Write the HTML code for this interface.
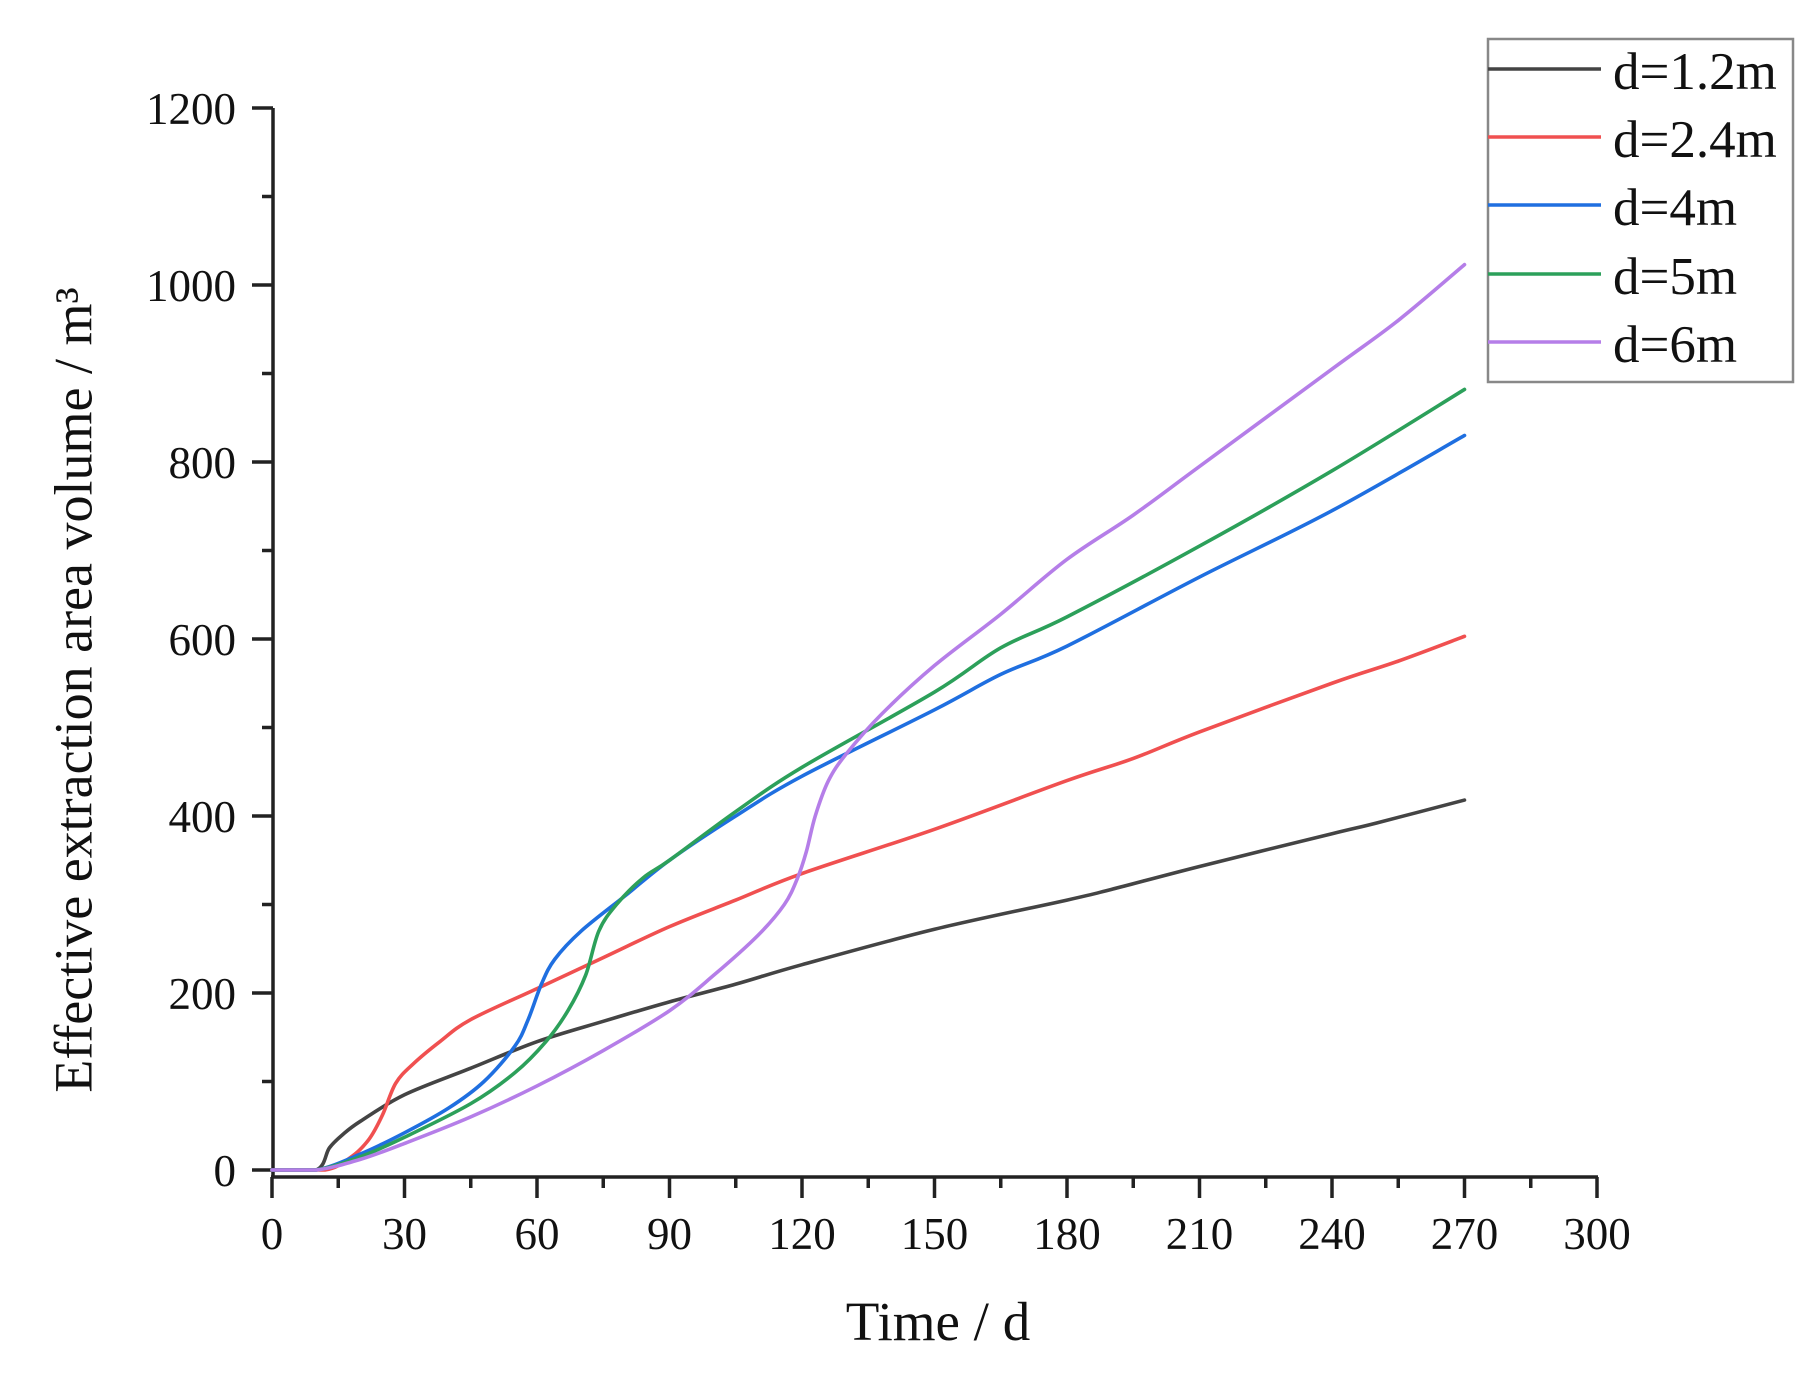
<!DOCTYPE html>
<html><head><meta charset="utf-8"><style>
html,body{margin:0;padding:0;background:#fff;}
svg{display:block;font-family:"Liberation Serif",serif;}
</style></head><body>
<svg id="s" width="1818" height="1380" viewBox="0 0 1818 1380" xmlns="http://www.w3.org/2000/svg">
<rect width="1818" height="1380" fill="#fff"/>
<g id="axes" stroke="#222" stroke-width="3.5" fill="none"></g>
<g id="lbl" fill="#111" font-size="45"></g>
<g id="series" fill="none" stroke-width="3.6" stroke-linejoin="round" stroke-linecap="round"></g>
<text x="79" y="690" font-size="54" fill="#111" text-anchor="middle" transform="rotate(-90 79 690)" dominant-baseline="middle">Effective extraction area volume / m³</text>
<text x="938" y="1340" font-size="55" fill="#111" text-anchor="middle">Time / d</text>
<rect x="1488" y="39" width="305" height="343" fill="#fff" stroke="#888" stroke-width="2.5"/>
<g font-size="53" fill="#111">
<line x1="1488" y1="69" x2="1601" y2="69" stroke="#444" stroke-width="3.5"/><text x="1613" y="89">d=1.2m</text>
<line x1="1488" y1="137" x2="1601" y2="137" stroke="#f05050" stroke-width="3.5"/><text x="1613" y="157">d=2.4m</text>
<line x1="1488" y1="205" x2="1601" y2="205" stroke="#1f6fe0" stroke-width="3.5"/><text x="1613" y="225">d=4m</text>
<line x1="1488" y1="274" x2="1601" y2="274" stroke="#2ca05a" stroke-width="3.5"/><text x="1613" y="294">d=5m</text>
<line x1="1488" y1="342" x2="1601" y2="342" stroke="#b57ee8" stroke-width="3.5"/><text x="1613" y="362">d=6m</text>
</g>
</svg>
<script>
const NS="http://www.w3.org/2000/svg";
const X=d=>272+d*1325/300, Y=v=>1170-v*1062/1200;
const ax=document.getElementById('axes'), lb=document.getElementById('lbl');
function el(p,t,a){const e=document.createElementNS(NS,t);for(const k in a)e.setAttribute(k,a[k]);p.appendChild(e);return e;}
el(ax,'line',{x1:273,y1:108,x2:273,y2:1178});
el(ax,'line',{x1:271,y1:1177,x2:1598,y2:1177});
for(let v=0;v<=1200;v+=100){const y=Y(v);const maj=v%200==0;
 el(ax,'line',{x1:maj?252:262,y1:y,x2:273,y2:y});
 if(maj){const t=el(lb,'text',{x:236,y:y+16,'text-anchor':'end'});t.textContent=v;}}
for(let d=0;d<=300;d+=15){const x=X(d);const maj=d%30==0;
 el(ax,'line',{x1:x,y1:1177,x2:x,y2:maj?1198:1188});
 if(maj){const t=el(lb,'text',{x:x,y:1249,'text-anchor':'middle'});t.textContent=d;}}
const S=[
["#444",[[0,0],[10,0],[13,25],[16,40],[20,55],[30,85],[45,115],[60,145],[75,168],[90,190],[105,210],[120,232],[150,272],[180,305],[190,317],[210,343],[240,380],[250,392],[270,418]]],
["#f05050",[[0,0],[12,0],[18,15],[22,35],[25,62],[28,98],[32,120],[38,145],[45,170],[60,205],[75,240],[90,275],[105,305],[120,335],[150,385],[180,440],[195,465],[210,495],[240,550],[255,575],[270,603]]],
["#1f6fe0",[[0,0],[10,0],[20,18],[30,42],[40,70],[48,100],[55,140],[58,170],[61,210],[64,238],[70,270],[80,310],[90,350],[105,400],[120,445],[150,520],[165,560],[180,592],[210,670],[240,745],[270,830]]],
["#2ca05a",[[0,0],[10,0],[20,15],[30,37],[45,75],[55,110],[62,145],[67,180],[71,220],[74,270],[78,300],[84,330],[90,350],[105,405],[120,455],[150,540],[165,590],[180,625],[210,705],[240,790],[270,882]]],
["#b57ee8",[[0,0],[10,0],[20,12],[30,30],[45,60],[60,95],[75,135],[90,180],[100,220],[110,265],[116,300],[119,330],[121,360],[123,400],[126,440],[130,470],[138,515],[150,570],[165,628],[180,690],[195,740],[210,795],[240,905],[255,960],[270,1023]]]
];
const sg=document.getElementById('series');
for(const [c,pts] of S){const P=pts.map(p=>[X(p[0]),Y(p[1])]);let d="M"+P[0][0]+","+P[0][1];
 for(let i=0;i<P.length-1;i++){const p0=P[Math.max(0,i-1)],p1=P[i],p2=P[i+1],p3=P[Math.min(P.length-1,i+2)];
  let c1=[p1[0]+(p2[0]-p0[0])/6,p1[1]+(p2[1]-p0[1])/6],c2=[p2[0]-(p3[0]-p1[0])/6,p2[1]-(p3[1]-p1[1])/6];
  c1[1]=Math.min(c1[1],1170);c2[1]=Math.min(c2[1],1170);
  d+=` C${c1[0]},${c1[1]} ${c2[0]},${c2[1]} ${p2[0]},${p2[1]}`;}
 el(sg,'path',{d:d,stroke:c});}
</script>
</body></html>
